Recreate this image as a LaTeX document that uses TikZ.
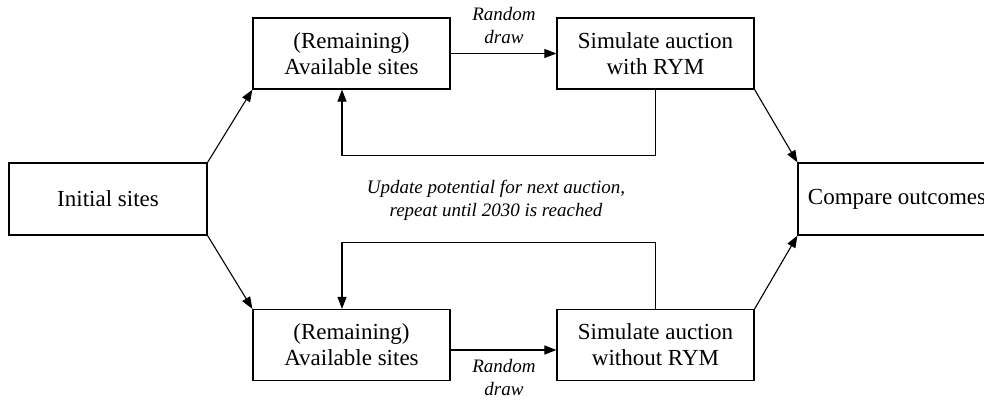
\documentclass[tikz,border=0pt]{standalone}
\usepackage{fontspec}
\setmainfont{Liberation Serif}
\usetikzlibrary{arrows.meta}
\begin{document}
\begin{tikzpicture}[x=1pt,y=-1pt,
  box/.style={draw,line width=1.2pt,minimum width=197pt,minimum height=71pt,align=center,inner sep=0pt,font=\fontsize{23}{26}\selectfont},
  lbl/.style={align=center,inner sep=0pt,font=\fontsize{19}{23}\selectfont\itshape},
  arr/.style={line width=1.1pt,-{Triangle[length=12pt,width=9pt]}},
  ln/.style={line width=1pt}]
\useasboundingbox (0,0) rectangle (984,400);
\node[box,minimum width=198pt,minimum height=72pt] (init) at (108,199) {Initial sites};
\node[box] (av1) at (351.5,53.5) {(Remaining)\\Available sites};
\node[box] (sim1) at (655.5,53.5) {Simulate auction\\with RYM};
\node[box] (av2) at (351.5,345) {(Remaining)\\Available sites};
\node[box] (sim2) at (655.5,345) {Simulate auction\\without RYM};
\node[box,minimum width=198pt,minimum height=72pt] (cmp) at (897,199) {Compare outcomes};
\node[lbl] (rd1) at (504,26) {Random\\draw};
\node[lbl] (rd2) at (504,377) {Random\\draw};
\node[lbl] (upd) at (496,200) {Update potential for next auction,\\repeat until 2030 is reached};
\draw[arr] (init.north east) -- (av1.south west);
\draw[arr] (init.south east) -- (av2.north west);
\draw[arr] (sim1.south east) -- (cmp.north west);
\draw[arr] (sim2.north east) -- (cmp.south west);
\draw[arr] (av1.east) -- (sim1.west);
\draw[arr] ([yshift=-5pt]av2.east) -- ([yshift=-5pt]sim2.west);
\draw[arr] (sim1.south) -- ++(0,66) -| ([xshift=-9.5pt]av1.south);
\draw[arr] (sim2.north) -- ++(0,-66) -| ([xshift=-9.5pt]av2.north);
\end{tikzpicture}
\end{document}
